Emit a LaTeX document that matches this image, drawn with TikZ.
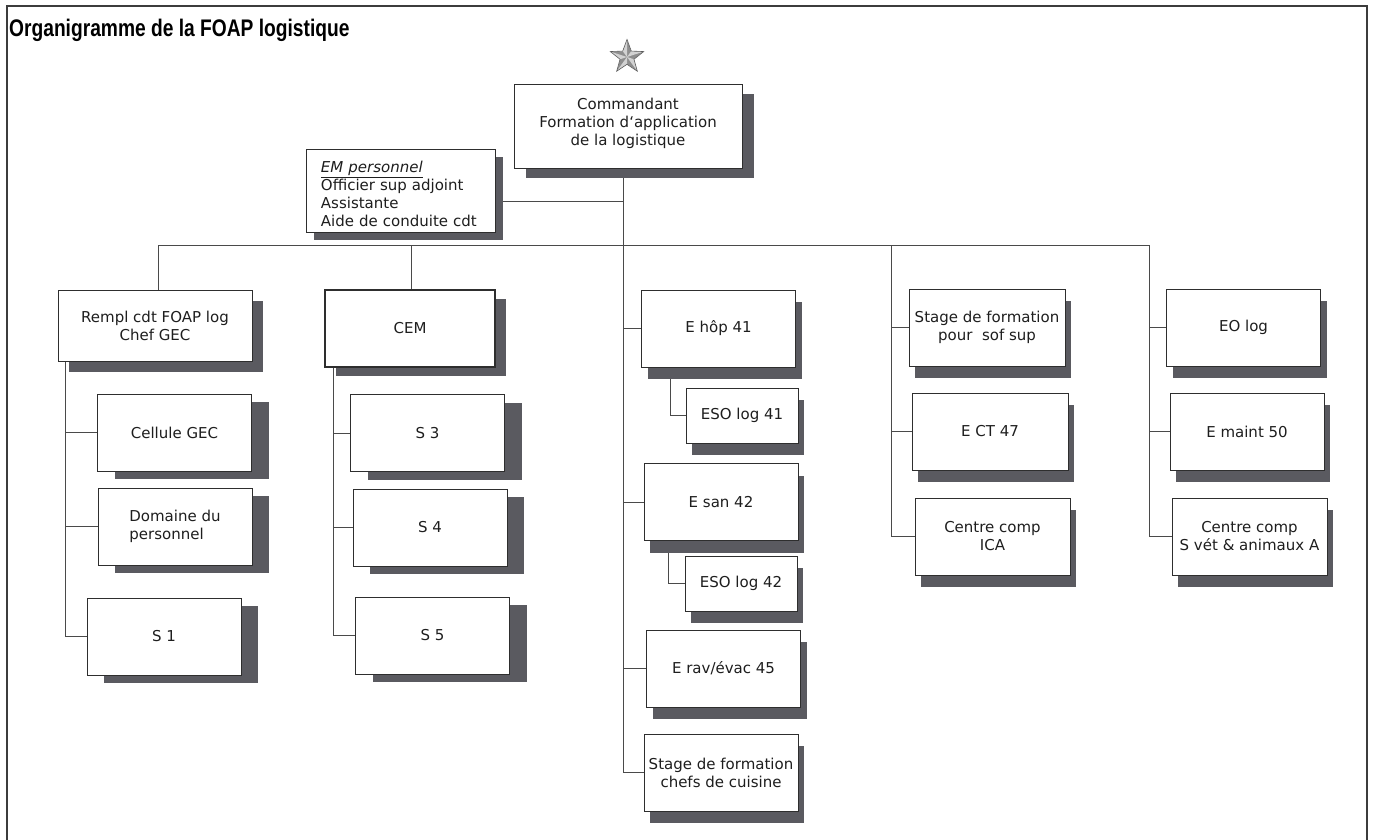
\documentclass[tikz,border=0pt]{standalone}
\usepackage{fontspec}
\setmainfont{DejaVu Sans}
\newfontfamily\titlefont[FakeStretch=0.8]{Liberation Sans}
\usetikzlibrary{shapes.geometric,shadows,backgrounds}

\definecolor{framegray}{HTML}{3C3C3C}
\definecolor{linegray}{HTML}{4A4A4A}
\definecolor{boxline}{HTML}{2E2E2E}
\definecolor{boxtext}{HTML}{1E1E1E}
\definecolor{shadowgray}{HTML}{5A5A60}
\definecolor{starfill}{HTML}{8E8E8E}
\definecolor{starlight}{HTML}{D2D2D2}
\definecolor{stargray}{HTML}{5C5C5C}

\begin{document}
\begin{tikzpicture}[
    x=1pt, y=-1pt,
    dropsh/.style 2 args={drop shadow={shadow xshift=#1, shadow yshift=#2,
        opacity=1, fill=shadowgray}},
    unit/.style={draw=boxline, fill=white, line width=0.9pt, text=boxtext,
        minimum width=154pt, minimum height=77pt, inner sep=0pt,
        align=center, font=\fontsize{15}{18}\selectfont},
    lunit/.style={unit, dropsh={17pt}{-8pt}},
    runit/.style={unit, dropsh={6pt}{-12pt}},
    link/.style={draw=linegray, line width=0.8pt}
]
    \useasboundingbox (0,0) rectangle (1373,840);
    \draw[framegray, line width=1.2pt] (7,840) -- (7,6) -- (1367,6) -- (1367,840);
    \node[anchor=base west, inner sep=0pt,
        font=\titlefont\bfseries\fontsize{24}{28}\selectfont] (title) at (9,37)
        {Organigramme de la FOAP logistique};

    % star
    \node[star, star points=5, star point ratio=2.4, minimum size=34pt,
        inner sep=0pt, fill=starfill] (star) at (627,57) {};
    \foreach \i in {1,...,5}
        \fill[starlight] (star.center) -- (star.outer point \i) -- (star.inner point \i) -- cycle;
    \draw[stargray, line width=0.6pt] (star.outer point 1)
        \foreach \i in {1,...,5} { -- (star.outer point \i) -- (star.inner point \i) } -- cycle;

    % top
    \node[unit, dropsh={12pt}{-10pt}, minimum width=228pt, minimum height=84pt] (cmd) at (628,126)
        {Commandant\\Formation d‘application\\de la logistique\rule[-8pt]{0pt}{8pt}};
    \node[unit, dropsh={8pt}{-8pt}, anchor=north west, minimum width=0pt, minimum height=0pt,
        text width=160pt, inner xsep=14.5pt, inner ysep=0pt, align=left] (em) at (306,149)
        {\rule{0pt}{23pt}\underline{\textit{EM personnel}}\\Officier sup adjoint\\Assistante\\Aide de conduite cdt\rule[-6pt]{0pt}{6pt}};

    % column 1
    \node[unit, dropsh={11pt}{-11pt}, minimum width=194pt, minimum height=71pt] (rempl) at (155,325.5)
        {Rempl cdt FOAP log\\Chef GEC};
    \node[lunit] (cell) at (174.5,432.5) {Cellule GEC};
    \node[lunit, align=left] (dom) at (175,526.5) {Domaine du\\personnel};
    \node[lunit] (s1) at (164,636.5) {S 1};

    % column 2
    \node[unit, dropsh={11pt}{-9pt}, line width=1.6pt, minimum width=170pt] (cem) at (410,328.5) {CEM};
    \node[lunit] (s3) at (427.5,433) {S 3};
    \node[lunit] (s4) at (430,527.5) {S 4};
    \node[lunit] (s5) at (432.5,635.5) {S 5};

    % column 3
    \node[runit] (ehop) at (718.5,328.5) {E hôp 41};
    \node[runit, minimum width=112pt, minimum height=55pt] (eso41) at (742,415.5) {ESO log 41};
    \node[runit] (esan) at (721,502) {E san 42};
    \node[runit, minimum width=112pt, minimum height=55pt] (eso42) at (741,583.5) {ESO log 42};
    \node[runit] (rav) at (723.5,668.5) {E rav/évac 45};
    \node[runit] (chefs) at (721,772.5) {Stage de formation\\chefs de cuisine};

    % column 4
    \node[runit, minimum width=156pt] (sof) at (987,327.5) {Stage de formation\\pour\ \ sof sup};
    \node[runit, minimum width=156pt] (ect) at (990,431.5) {E CT 47};
    \node[runit, minimum width=155pt] (ica) at (992.5,536.5) {Centre comp\\ICA};

    % column 5
    \node[runit] (eo) at (1243.5,327.5) {EO log};
    \node[runit] (maint) at (1247,431.5) {E maint 50};
    \node[runit, minimum width=155pt] (svet) at (1249.5,536.5) {Centre comp\\S vét \& animaux A};

    \coordinate (b1) at (158,245);
    \coordinate (b2) at (411,245);
    \coordinate (b3) at (623,245);
    \coordinate (b4) at (891,245);
    \coordinate (b5) at (1149,245);
    \coordinate (k1) at (65,0);
    \coordinate (k2) at (333,0);
    \coordinate (k41) at (670,0);
    \coordinate (k42) at (668,0);
    \coordinate (emc) at ([yshift=-10pt]em.east);

    \begin{scope}[on background layer]
        \draw[link] (b1) -- (b5);
        \draw[link] (b1) -- (b1 |- rempl.north);
        \draw[link] (b2) -- (b2 |- cem.north);
        \draw[link] (b3 |- cmd.south) -- (b3 |- chefs.west) -- (chefs.west);
        \draw[link] (emc) -- (emc -| b3);
        \draw[link] (k1 |- rempl.south) -- (k1 |- s1.west) -- (s1.west);
        \foreach \n in {cell,dom}
            \draw[link] (k1 |- \n.west) -- (\n.west);
        \draw[link] (k2 |- cem.south) -- (k2 |- s5.west) -- (s5.west);
        \foreach \n in {s3,s4}
            \draw[link] (k2 |- \n.west) -- (\n.west);
        \foreach \n in {ehop,esan,rav}
            \draw[link] (b3 |- \n.west) -- (\n.west);
        \draw[link] (k41 |- ehop.south) -- (k41 |- eso41.west) -- (eso41.west);
        \draw[link] (k42 |- esan.south) -- (k42 |- eso42.west) -- (eso42.west);
        \draw[link] (b4) -- (b4 |- ica.west) -- (ica.west);
        \foreach \n in {sof,ect}
            \draw[link] (b4 |- \n.west) -- (\n.west);
        \draw[link] (b5) -- (b5 |- svet.west) -- (svet.west);
        \foreach \n in {eo,maint}
            \draw[link] (b5 |- \n.west) -- (\n.west);
    \end{scope}
\end{tikzpicture}
\end{document}
